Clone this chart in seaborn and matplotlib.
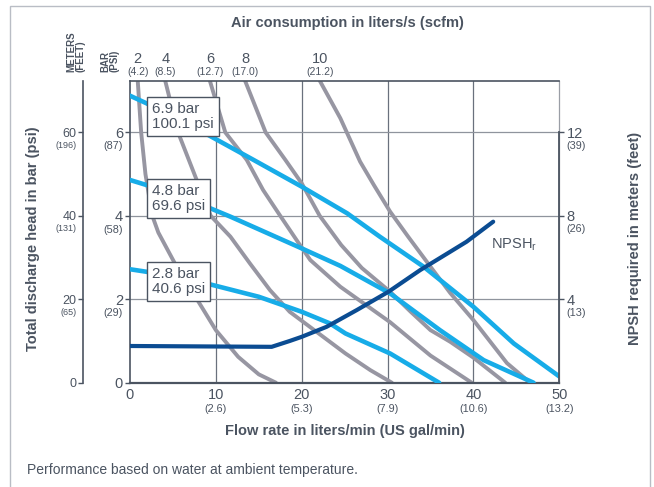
import pandas as pd
import seaborn as sns
import matplotlib.pyplot as plt
from matplotlib.patches import Rectangle

# --- data (flow in l/min, head in bar) ---
air_levels = ["2", "4", "6", "8", "10"]
air_scfm = ["(4.2)", "(8.5)", "(12.7)", "(17.0)", "(21.2)"]

air2_flow = [0.9, 1.3, 1.8, 2.6, 3.3, 5.2, 7.8, 10.0, 12.6, 15.0, 17.0]
air2_head = [7.24, 6.0, 5.0, 4.0, 3.6, 2.87, 2.0, 1.26, 0.62, 0.2, 0.0]
air4_flow = [4.1, 5.6, 7.5, 9.4, 11.7, 14.0, 16.3, 18.6, 21.2, 25.1, 28.0, 30.5]
air4_head = [7.24, 6.0, 5.0, 4.0, 3.5, 2.85, 2.22, 1.7, 1.3, 0.7, 0.3, 0.0]
air6_flow = [9.3, 11.1, 13.6, 15.5, 17.5, 19.4, 21.0, 24.5, 30.3, 35.0, 39.8]
air6_head = [7.24, 6.0, 5.34, 4.62, 4.0, 3.42, 2.94, 2.3, 1.45, 0.65, 0.0]
air8_flow = [13.4, 15.8, 18.1, 20.0, 22.1, 24.6, 27.0, 30.3, 32.7, 35.0, 37.3, 40.0, 43.7]
air8_head = [7.24, 6.0, 5.34, 4.78, 4.0, 3.3, 2.75, 2.18, 1.7, 1.26, 0.98, 0.6, 0.0]
air10_flow = [22.1, 24.5, 26.8, 28.4, 30.3, 32.4, 35.0, 37.3, 40.0, 43.9, 46.6]
air10_head = [7.24, 6.34, 5.3, 4.74, 4.1, 3.5, 2.78, 2.15, 1.5, 0.47, 0.0]

p69_flow = [0.0, 1.9, 9.1, 14.4, 20.0, 25.3, 29.1, 34.2, 40.0, 44.7, 50.0]
p69_head = [6.88, 6.70, 5.94, 5.34, 4.70, 4.06, 3.50, 2.78, 1.82, 0.94, 0.15]
p48_flow = [0.0, 1.9, 8.9, 11.7, 20.0, 24.5, 30.3, 36.1, 41.2, 47.0]
p48_head = [4.86, 4.74, 4.22, 3.98, 3.22, 2.80, 2.14, 1.26, 0.54, 0.0]
p28_flow = [0.0, 1.9, 8.9, 15.0, 20.0, 23.3, 25.1, 30.3, 36.0]
p28_head = [2.72, 2.66, 2.38, 2.06, 1.70, 1.42, 1.18, 0.70, 0.0]
press_labels = ["6.9 bar\n100.1 psi", "4.8 bar\n69.6 psi", "2.8 bar\n40.6 psi"]

npsh_flow = [0.0, 16.5, 18.6, 20.0, 22.9, 26.4, 30.1, 33.8, 37.3, 39.2, 42.3]
npsh_head = [0.88, 0.86, 1.0, 1.1, 1.34, 1.74, 2.18, 2.70, 3.14, 3.38, 3.86]

x_ticks = [0, 10, 20, 30, 40, 50]
x_gal = ["", "(2.6)", "(5.3)", "(7.9)", "(10.6)", "(13.2)"]
bar_ticks = [0, 2, 4, 6]
bar_psi = ["", "(29)", "(58)", "(87)"]
meters_labels = ["0", "20", "40", "60"]
feet_labels = ["", "(65)", "(131)", "(196)"]
npsh_ticks = [2, 4, 6]
npsh_m = ["4", "8", "12"]
npsh_ft = ["(13)", "(26)", "(39)"]

TXT = "#4b5461"
GRAY = "#9796a2"
LBLUE = "#17ace8"
DBLUE = "#0b4c92"

sns.set_style("white")
plt.rcParams["font.family"] = ["Liberation Sans", "DejaVu Sans"]
plt.rcParams["text.color"] = TXT

fig = plt.figure(figsize=(6.54, 4.87), dpi=100)
ax = fig.add_axes([130 / 654, 1 - 382.7 / 487, 429.3 / 654, 302 / 487])

air = pd.concat([
    pd.DataFrame({"flow": f, "head": h, "curve": n})
    for f, h, n in zip([air2_flow, air4_flow, air6_flow, air8_flow, air10_flow],
                       [air2_head, air4_head, air6_head, air8_head, air10_head],
                       air_levels)
])
press = pd.concat([
    pd.DataFrame({"flow": f, "head": h, "curve": n})
    for f, h, n in zip([p69_flow, p48_flow, p28_flow],
                       [p69_head, p48_head, p28_head], press_labels)
])
npsh = pd.DataFrame({"flow": npsh_flow, "head": npsh_head})

sns.lineplot(data=air, x="flow", y="head", units="curve", estimator=None, sort=False,
             color=GRAY, lw=2.8, ax=ax, zorder=2)
sns.lineplot(data=press, x="flow", y="head", units="curve", estimator=None, sort=False,
             color=LBLUE, lw=3.3, ax=ax, zorder=3)
sns.lineplot(data=npsh, x="flow", y="head", estimator=None, sort=False,
             color=DBLUE, lw=3.0, ax=ax, zorder=4)

ax.set_xlim(0, 50)
ax.set_ylim(0, 7.24)
ax.set_xlabel("")
ax.set_ylabel("")

# grid
for v in [10, 20, 30, 40]:
    ax.axvline(v, color="#6a717d", lw=0.9, zorder=1)
for h in [2, 4, 6]:
    ax.axhline(h, color="#8f949d", lw=0.9, zorder=1)

for side in ["left", "bottom", "top"]:
    ax.spines[side].set_color(TXT)
    ax.spines[side].set_linewidth(1.2)
ax.spines["bottom"].set_linewidth(1.6)
ax.spines["right"].set_color("#9a9ea6")
ax.spines["right"].set_linewidth(0.9)

ax.set_xticks(x_ticks)
ax.set_xticklabels([str(t) for t in x_ticks])
ax.set_yticks(bar_ticks)
ax.set_yticklabels([str(t) for t in bar_ticks])
ax.tick_params(axis="x", direction="out", length=3, width=1, color=TXT,
               labelcolor=TXT, labelsize=10.5, pad=1)
ax.tick_params(axis="y", direction="out", length=3.6, width=1, color=TXT,
               labelcolor=TXT, labelsize=10.5, pad=1.5)

for x, s in zip(x_ticks, x_gal):
    ax.annotate(s, (x, 0), xycoords=("data", "axes fraction"), xytext=(0, -18.7),
                textcoords="offset points", ha="center", va="center", fontsize=7.8)
for y, s in zip(bar_ticks, bar_psi):
    ax.annotate(s, (0, y), xycoords=("axes fraction", "data"), xytext=(-5.2, -10),
                textcoords="offset points", ha="right", va="center", fontsize=7.8)

# outer meters (feet) axis
ax2 = ax.twinx()
ax2.set_ylim(ax.get_ylim())
for side in ["right", "top", "bottom"]:
    ax2.spines[side].set_visible(False)
ax2.spines["left"].set_visible(True)
ax2.spines["left"].set_position(("outward", 33.6))
ax2.spines["left"].set_color(TXT)
ax2.spines["left"].set_linewidth(1.2)
ax2.yaxis.set_ticks_position("left")
ax2.set_yticks(bar_ticks)
ax2.set_yticklabels(meters_labels)
ax2.tick_params(axis="y", direction="out", length=3.6, width=1, color=TXT,
                labelcolor=TXT, labelsize=9, pad=1.2)
for y, s in zip(bar_ticks, feet_labels):
    ax.annotate(s, (0, y), xycoords=("axes fraction", "data"), xytext=(-38.2, -9.4),
                textcoords="offset points", ha="right", va="center", fontsize=6.5)

# right NPSH axis
ax3 = ax.twinx()
ax3.set_ylim(ax.get_ylim())
for side in ["left", "top", "bottom"]:
    ax3.spines[side].set_visible(False)
ax3.spines["right"].set_bounds(0, 6)
ax3.spines["right"].set_color(TXT)
ax3.spines["right"].set_linewidth(1.3)
ax3.set_yticks(npsh_ticks)
ax3.set_yticklabels(npsh_m)
ax3.tick_params(axis="y", direction="out", length=3.6, width=1, color=TXT,
                labelcolor=TXT, labelsize=10.5, pad=1.6)
for y, s in zip(npsh_ticks, npsh_ft):
    ax.annotate(s, (1, y), xycoords=("axes fraction", "data"), xytext=(5.3, -9.6),
                textcoords="offset points", ha="left", va="center", fontsize=7.8)

# air consumption labels over the curve tops
for f, top, sc in zip([air2_flow, air4_flow, air6_flow, air8_flow, air10_flow], air_levels, air_scfm):
    ax.annotate(top, (f[0], 1), xycoords=("data", "axes fraction"), xytext=(0, 15.8),
                textcoords="offset points", ha="center", va="center", fontsize=10.5)
    ax.annotate(sc, (f[0], 1), xycoords=("data", "axes fraction"), xytext=(0, 6.3),
                textcoords="offset points", ha="center", va="center", fontsize=7.5)

# pressure boxes
for y, s in zip([6.39, 4.41, 2.43], press_labels):
    ax.text(2.6, y, s, ha="left", va="center", fontsize=11, linespacing=1.1, zorder=6,
            bbox=dict(boxstyle="square,pad=0.32", fc="white", ec=TXT, lw=1.0))

ax.text(42.0, 3.3, "NPSH$_\\mathregular{r}$", ha="left", va="center", fontsize=10.5, zorder=6)

# titles and labels
fig.text(347.5 / 654, 1 - 23 / 487, "Air consumption in liters/s (scfm)", ha="center", va="center",
         fontsize=10.5, fontweight="bold")
fig.text(345 / 654, 1 - 430.5 / 487, "Flow rate in liters/min (US gal/min)", ha="center", va="center",
         fontsize=10.5, fontweight="bold")
fig.text(33.3 / 654, 1 - 238.5 / 487, "Total discharge head in bar (psi)", ha="center", va="center",
         rotation=90, fontsize=10.5, fontweight="bold")
fig.text(635 / 654, 1 - 238.5 / 487, "NPSH required in meters (feet)", ha="center", va="center",
         rotation=90, fontsize=10.5, fontweight="bold")
fig.text(76 / 654, 1 - 72 / 487, "METERS\n(FEET)", ha="center", va="bottom", rotation=90,
         multialignment="left", fontsize=7, fontweight="bold", linespacing=1.0)
fig.text(110 / 654, 1 - 72 / 487, "BAR\n(PSI)", ha="center", va="bottom", rotation=90,
         multialignment="left", fontsize=7, fontweight="bold", linespacing=1.0)
fig.text(26.7 / 654, 1 - 470 / 487, "Performance based on water at ambient temperature.",
         ha="left", va="center", fontsize=10)

fig.patches.append(Rectangle((10 / 654, -0.05), 640 / 654, 1.05 - 6 / 487, transform=fig.transFigure,
                             fill=False, ec="#b9bdc5", lw=1.0))

fig.savefig("out.png", dpi=100)
